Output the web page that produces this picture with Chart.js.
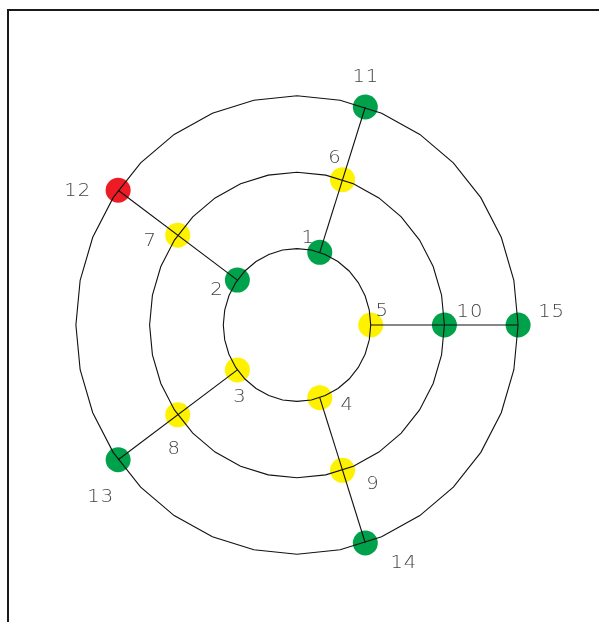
<!DOCTYPE html>
<html>
<head>
<meta charset="utf-8">
<script src="https://cdn.jsdelivr.net/npm/chart.js@4"></script>
<style>
  html, body { margin: 0; padding: 0; background: #fff; }
  canvas { display: block; }
</style>
</head>
<body>
<canvas id="grafico" width="599" height="622"></canvas>
<script>
// Nodes: id, ring (1 = inner), spoke angle in degrees, status
const nodeIds = [1, 2, 3, 4, 5, 6, 7, 8, 9, 10, 11, 12, 13, 14, 15];
const nodeRing = [1, 1, 1, 1, 1, 2, 2, 2, 2, 2, 3, 3, 3, 3, 3];
const nodeAngle = [72, 144, 216, 288, 0, 72, 144, 216, 288, 0, 72, 144, 216, 288, 0];
const nodeStatus = ['ok', 'ok', 'warn', 'warn', 'warn',
                    'warn', 'warn', 'warn', 'warn', 'ok',
                    'ok', 'fail', 'ok', 'ok', 'ok'];
const ringRadii = [1, 2, 3];
const spokeAngles = [72, 144, 216, 288, 0];

// styles
const statusColors = { ok: '#00a14b', warn: '#fff200', fail: '#ed1c24' };
// label offset from the dot, in pixels
const labelOffsets = [
  [-12, -15], [-21, 9], [2, 26], [27, 6], [11, -15],
  [-8, -23], [-28, 5], [-4, 33], [30, 13], [25, -14],
  [0, -31], [-41, 0], [-18, 36], [38, 19], [33, -14],
];
const SEGMENTS = 32;

function polar(r, deg) {
  const a = deg * Math.PI / 180;
  return { x: r * Math.cos(a), y: r * Math.sin(a) };
}

const datasets = [];

// rings (drawn as 32-sided polygons like the original)
ringRadii.forEach(r => {
  const pts = [];
  for (let i = 0; i <= SEGMENTS; i++) pts.push(polar(r, i * 360 / SEGMENTS));
  datasets.push({
    data: pts, showLine: true, borderColor: '#111', borderWidth: 1.1,
    pointRadius: 0, order: 0,
  });
});

// spokes from inner ring to outer ring
spokeAngles.forEach(a => {
  datasets.push({
    data: [polar(ringRadii[0], a), polar(ringRadii[ringRadii.length - 1], a)],
    showLine: true, borderColor: '#111', borderWidth: 1.1,
    pointRadius: 0, order: 0,
  });
});

// the nodes, under the lines
datasets.push({
  data: nodeIds.map((id, i) => polar(nodeRing[i], nodeAngle[i])),
  pointRadius: 12.5,
  pointBackgroundColor: nodeStatus.map(s => statusColors[s]),
  pointBorderWidth: 0,
  order: 10,
});

const framePlugin = {
  id: 'moldura',
  beforeDraw(chart) {
    const ctx = chart.ctx;
    ctx.save();
    ctx.fillStyle = '#fff';
    ctx.fillRect(0, 0, chart.width, chart.height);
    ctx.fillStyle = '#1a1a1a';
    ctx.fillRect(7, 9, chart.width - 7, 2);
    ctx.fillRect(7, 9, 2, chart.height - 9);
    ctx.restore();
  }
};

// labels: thin, slightly stretched digits with extra spacing
const labelPlugin = {
  id: 'rotulos',
  afterDatasetsDraw(chart) {
    const ctx = chart.ctx;
    const meta = chart.getDatasetMeta(chart.data.datasets.length - 1);
    const esticar = 1.15, espaco = 1;
    ctx.save();
    ctx.fillStyle = '#444';
    ctx.font = '200 17px "DejaVu Sans"';
    ctx.textBaseline = 'middle';
    ctx.textAlign = 'left';
    meta.data.forEach((el, i) => {
      const chars = String(nodeIds[i]).split('');
      const larg = chars.map(c => ctx.measureText(c).width * esticar);
      const w = larg.reduce((a, b) => a + b, 0) + espaco * (chars.length - 1);
      let x = el.x + labelOffsets[i][0] - w / 2;
      const y = el.y + labelOffsets[i][1] + 1.5;
      chars.forEach((c, k) => {
        ctx.save();
        ctx.translate(x, y);
        ctx.scale(esticar, 1);
        ctx.fillText(c, 0, 0);
        ctx.restore();
        x += larg[k] + espaco;
      });
    });
    ctx.restore();
  }
};

const unitX = 73.7, unitY = 76.4, cx = 297, cy = 325;

new Chart(document.getElementById('grafico').getContext('2d'), {
  type: 'scatter',
  data: { datasets },
  options: {
    responsive: false,
    animation: false,
    layout: { padding: 0, autoPadding: false },
    plugins: { legend: { display: false }, tooltip: { enabled: false } },
    scales: {
      x: { type: 'linear', display: false, min: -cx / unitX, max: (599 - cx) / unitX },
      y: { type: 'linear', display: false, min: -(622 - cy) / unitY, max: cy / unitY },
    },
  },
  plugins: [framePlugin, labelPlugin],
});
</script>
</body>
</html>
